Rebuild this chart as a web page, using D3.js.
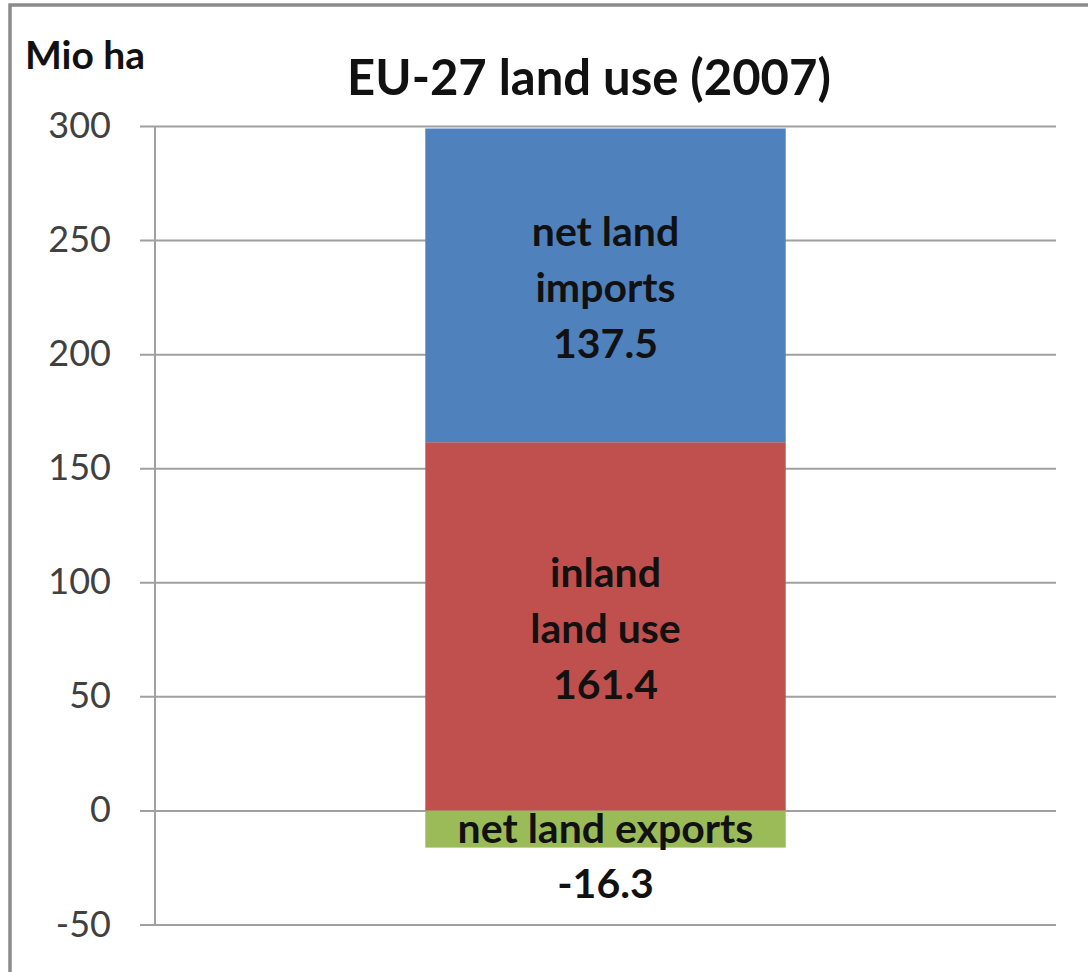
<!DOCTYPE html>
<html>
<head>
<meta charset="utf-8">
<script src="https://cdn.jsdelivr.net/npm/d3@7"></script>
<style>
  body { margin: 0; background: #fff; }
  text { font-family: Lato, "Open Sans", sans-serif; }
</style>
</head>
<body>
<svg id="chart" width="1088" height="972"></svg>
<script>
// stacked segments (Mio ha), bottom to top
const segments = ['net land exports', 'inland land use', 'net land imports'];
const values = [-16.3, 161.4, 137.5];
const colors = ['#9bbb59', '#c0504d', '#4f81bd'];
const labelLines = [['net land exports'], ['inland', 'land use', '161.4'], ['net land', 'imports', '137.5']];
const tickValues = [-50, 0, 50, 100, 150, 200, 250, 300];

const svg = d3.select('#chart');
const margin = { left: 155, right: 32, top: 126, bottom: 47 };
const width = +svg.attr('width');
const height = +svg.attr('height');

// outer frame
svg.append('rect')
  .attr('x', 10).attr('y', 5)
  .attr('width', width).attr('height', height)
  .attr('fill', 'none').attr('stroke', '#8c8c8c').attr('stroke-width', 3.5);

const y = d3.scaleLinear().domain([-50, 300]).range([height - margin.bottom - 0.5, margin.top]);
const x = d3.scaleBand().domain(['EU-27']).range([margin.left, width - margin.right]).paddingInner(0).paddingOuter(0.75);

// gridlines + ticks
const yAxis = d3.axisLeft(y)
  .tickValues(tickValues)
  .tickFormat(d => String(d))
  .tickSize(-(width - margin.right - margin.left))
  .tickSizeOuter(0)
  .tickPadding(44);
const axisG = svg.append('g')
  .attr('transform', `translate(${margin.left},0)`)
  .call(yAxis);
axisG.select('.domain').remove();
axisG.selectAll('.tick line')
  .attr('x1', -15)
  .attr('stroke', '#a0a0a0').attr('stroke-width', 2);
axisG.selectAll('.tick text')
  .attr('fill', '#404040')
  .style('font-family', 'Lato, sans-serif')
  .style('font-size', '36px');

// vertical axis line
svg.append('line')
  .attr('x1', margin.left).attr('x2', margin.left)
  .attr('y1', y(300)).attr('y2', y(-50))
  .attr('stroke', '#a0a0a0').attr('stroke-width', 2);

// stack: positive from 0 upwards, negative from 0 downwards
let pos = 0;
const stacked = values.map((v, i) => {
  let y0, y1;
  if (v >= 0) { y0 = pos; y1 = pos + v; pos = y1; }
  else { y0 = v; y1 = 0; }
  return { name: segments[i], value: v, y0, y1, color: colors[i], lines: labelLines[i] };
});

const bx = x('EU-27');
const bw = x.bandwidth();

svg.append('g').selectAll('rect')
  .data(stacked)
  .join('rect')
  .attr('x', bx)
  .attr('width', bw)
  .attr('y', d => y(d.y1))
  .attr('height', d => y(d.y0) - y(d.y1))
  .attr('fill', d => d.color);

// segment labels
const lineH = 56;
const labels = svg.append('g');
const addLabel = (cx, cy, t) => labels.append('text')
  .attr('x', cx).attr('y', cy)
  .attr('dy', '0.35em')
  .attr('text-anchor', 'middle')
  .style('font-size', '41px').style('font-weight', 'bold')
  .attr('fill', '#111')
  .text(t);

stacked.forEach(d => {
  const cx = bx + bw / 2;
  const mid = (y(d.y0) + y(d.y1)) / 2;
  if (d.value >= 0) {
    const n = d.lines.length;
    d.lines.forEach((t, k) => addLabel(cx, mid + 2 + (k - (n - 1) / 2) * lineH, t));
  } else {
    addLabel(cx, mid, d.lines[0]);
    addLabel(cx, y(d.y0) + 36, d.value.toFixed(1));
  }
});

// title and unit
svg.append('text')
  .attr('x', 589).attr('y', 95)
  .attr('text-anchor', 'middle')
  .style('font-size', '49px').style('font-weight', 'bold')
  .attr('fill', '#111')
  .text('EU-27 land use (2007)');

svg.append('text')
  .attr('x', 25).attr('y', 69)
  .style('font-size', '39px').style('font-weight', 'bold')
  .attr('fill', '#111')
  .text('Mio ha');
</script>
</body>
</html>
